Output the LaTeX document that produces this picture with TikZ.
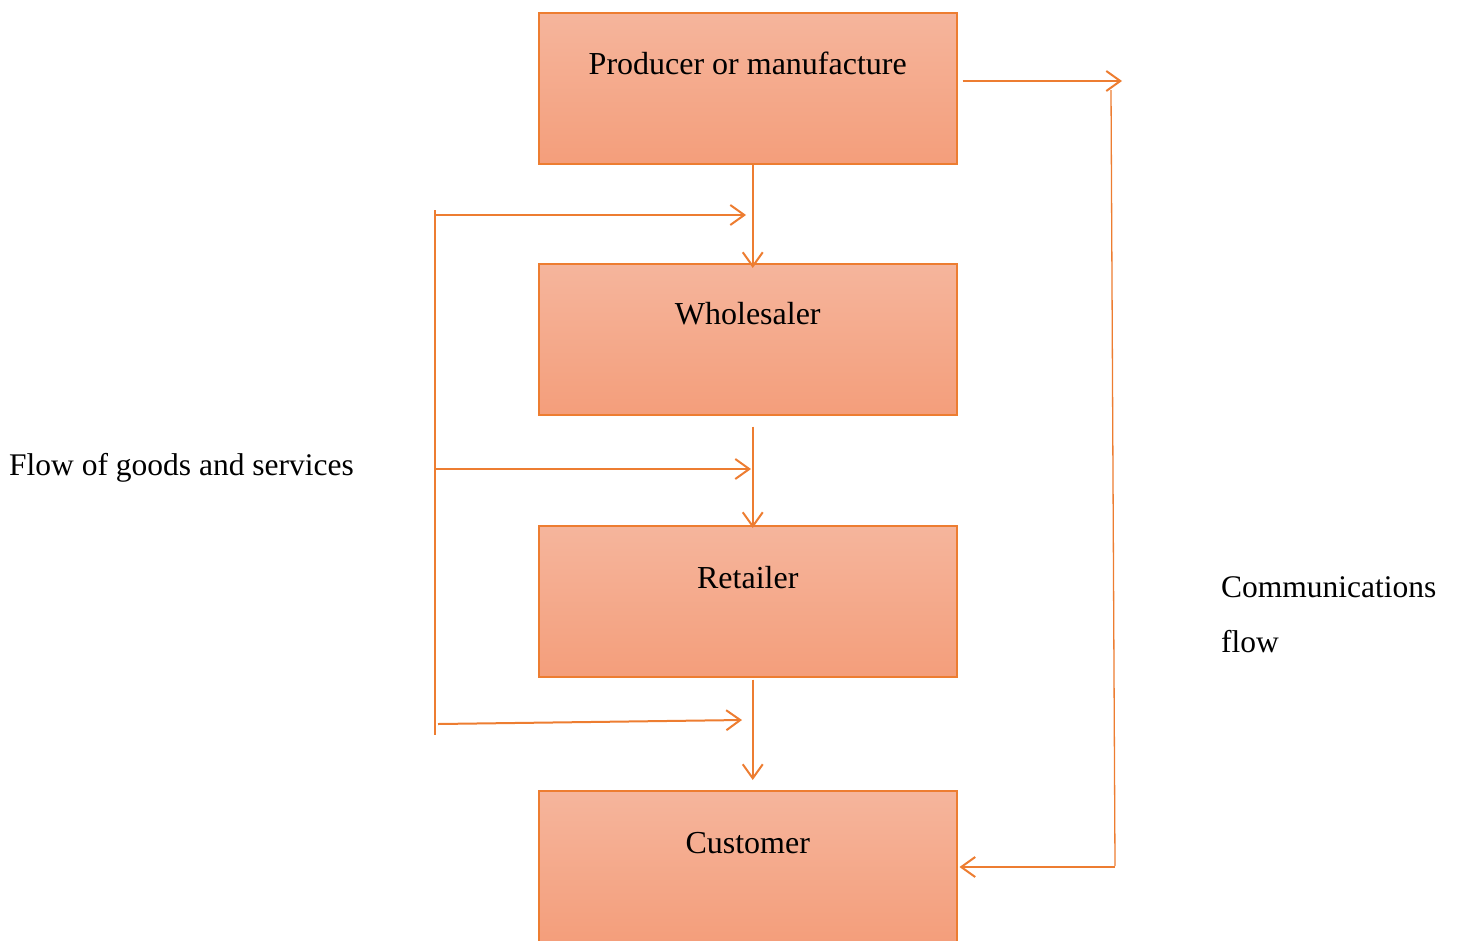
\documentclass[tikz,border=0pt]{standalone}
\usepackage{fontspec}
\setmainfont{Liberation Serif}
\usetikzlibrary{arrows.meta}
\definecolor{edge}{HTML}{ED7D31}
\definecolor{topc}{HTML}{F5B59C}
\definecolor{botc}{HTML}{F49E7B}
\tikzset{
  box/.style={draw=edge, line width=1.5pt, top color=topc, bottom color=botc,
    minimum width=418pt, minimum height=151pt, inner sep=0pt, anchor=north west},
  boxtext/.style={font=\fontsize{32}{38}\selectfont, text=black},
  flow/.style={draw=edge, line width=2pt},
  flowarrow/.style={flow, -{Straight Barb[length=14pt,width=20pt,line width=2pt]}},
  caption/.style={font=\fontsize{31.5}{38}\selectfont, anchor=west, inner sep=0pt}
}
\begin{document}
\begin{tikzpicture}[x=1pt,y=1pt]
\useasboundingbox (0,0) rectangle (1458,-940);
% boxes
\node[box, label={[boxtext, anchor=center, yshift=-51pt]north:{Producer or manufacture}}] (b1) at (538,-12) {};
\node[box, label={[boxtext, anchor=center, yshift=-51pt]north:{Wholesaler}}] (b2) at (538,-263) {};
\node[box, label={[boxtext, anchor=center, yshift=-53pt]north:{Retailer}}] (b3) at (538,-525) {};
\node[box, label={[boxtext, anchor=center, yshift=-53pt]north:{Customer}}] (b4) at (538,-790) {};
% vertical flow arrows
\draw[flowarrow] ([xshift=5pt]b1.south) -- ([xshift=5pt,yshift=-5pt]b2.north);
\draw[flowarrow] ([xshift=5pt,yshift=-11pt]b2.south) -- ([xshift=5pt,yshift=-3pt]b3.north);
\draw[flowarrow] ([xshift=5pt,yshift=-2pt]b3.south) -- ([xshift=5pt,yshift=10pt]b4.north);
% left flow of goods
\coordinate (lt) at (435,-210);
\coordinate (lb) at (435,-735);
\coordinate (a1s) at (435,-215);
\coordinate (a1e) at (746,-215);
\coordinate (a2s) at (435,-469);
\coordinate (a2e) at (751,-469);
\coordinate (a3s) at (438,-724);
\coordinate (a3e) at (742,-720);
\draw[flow, line width=1.3pt] (lt) -- (lb);
\draw[flowarrow] (a1s) -- (a1e);
\draw[flowarrow] (a2s) -- (a2e);
\draw[flowarrow] (a3s) -- (a3e);
% communications flow
\coordinate (c1e) at (1122,-81);
\coordinate (rt) at (1111,-90);
\coordinate (rb) at (1115,-866);
\coordinate (c2s) at (1115,-867);
\draw[flowarrow] ([xshift=5pt]b1.east |- c1e) -- (c1e);
\draw[flow, line width=1.3pt] (rt) -- (rb);
\draw[flowarrow] (c2s) -- ([xshift=2pt]b4.east |- c2s);
% captions
\node[caption] (fg) at (9,-468) {Flow of goods and services};
\node[caption] (cf1) at (1221,-587) {Communications};
\node[caption] (cf2) at (1221,-642) {flow};
\end{tikzpicture}
\end{document}
